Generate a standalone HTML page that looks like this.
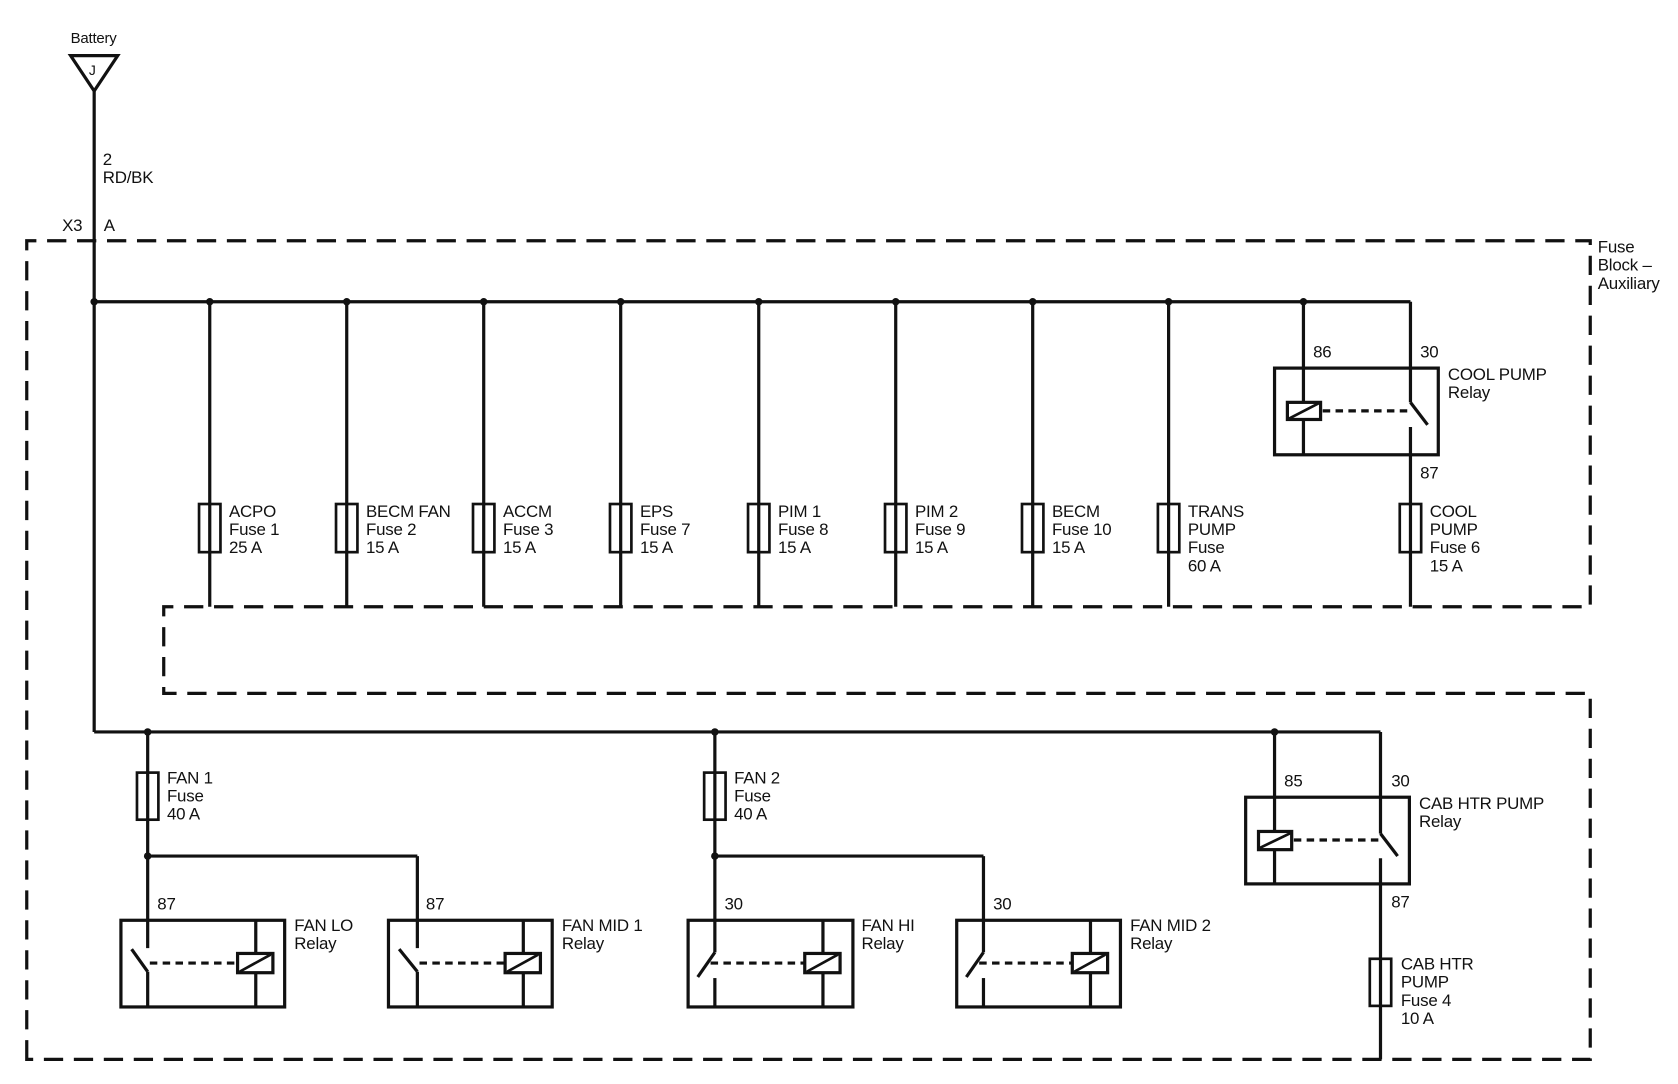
<!DOCTYPE html>
<html><head><meta charset="utf-8"><style>
html,body{margin:0;padding:0;background:#fff;}
svg{display:block;}
text{font-family:"Liberation Sans",sans-serif;font-size:15.8px;fill:#111;letter-spacing:-0.2px;}
</style></head><body>
<svg width="1678" height="1084" viewBox="0 0 1568 1013" preserveAspectRatio="none" xmlns="http://www.w3.org/2000/svg">
<g stroke="#111" stroke-width="3" fill="none">
<path d="M25 990 V225 H1486 V567 H153 V648 H1486 V990 Z" stroke-dasharray="18 10"/>
<path d="M66 52 H110 L88 85 Z" stroke-width="3"/>
<line x1="88" y1="85" x2="88" y2="684"/>
<line x1="88" y1="282" x2="1318" y2="282"/>
<g>
<line x1="196" y1="282" x2="196" y2="567"/>
<line x1="324" y1="282" x2="324" y2="567"/>
<line x1="452" y1="282" x2="452" y2="567"/>
<line x1="580" y1="282" x2="580" y2="567"/>
<line x1="709" y1="282" x2="709" y2="567"/>
<line x1="837" y1="282" x2="837" y2="567"/>
<line x1="965" y1="282" x2="965" y2="567"/>
<line x1="1092" y1="282" x2="1092" y2="567"/>
</g>
<g stroke-width="2.5">
<rect x="186" y="471" width="20" height="45"/>
<rect x="314" y="471" width="20" height="45"/>
<rect x="442" y="471" width="20" height="45"/>
<rect x="570" y="471" width="20" height="45"/>
<rect x="699" y="471" width="20" height="45"/>
<rect x="827" y="471" width="20" height="45"/>
<rect x="955" y="471" width="20" height="45"/>
<rect x="1082" y="471" width="20" height="45"/>
<rect x="1308" y="471" width="20" height="45"/>
<rect x="128" y="722" width="20" height="44"/>
<rect x="658" y="722" width="20" height="44"/>
<rect x="1280" y="896" width="20" height="44"/>
</g>
<rect x="1191" y="344" width="153" height="81"/>
<line x1="1218" y1="282" x2="1218" y2="425"/>
<line x1="1318" y1="282" x2="1318" y2="376"/>
<line x1="1318" y1="376" x2="1334" y2="397"/>
<line x1="1318" y1="399" x2="1318" y2="567"/>
<rect x="1203" y="376" width="31" height="16" fill="#fff"/>
<line x1="1203" y1="392" x2="1234" y2="376" stroke-width="2.5"/>
<line x1="1236" y1="384" x2="1316" y2="384" stroke-dasharray="7 5"/>
<line x1="88" y1="684" x2="1290" y2="684"/>
<line x1="138" y1="684" x2="138" y2="886"/>
<line x1="138" y1="800" x2="390" y2="800"/>
<line x1="390" y1="800" x2="390" y2="886"/>
<line x1="668" y1="684" x2="668" y2="890"/>
<line x1="668" y1="800" x2="919" y2="800"/>
<line x1="919" y1="800" x2="919" y2="890"/>
<rect x="113" y="860" width="153" height="81"/>
<line x1="123" y1="887" x2="138" y2="908"/>
<line x1="138" y1="908" x2="138" y2="941"/>
<line x1="239" y1="860" x2="239" y2="941"/>
<rect x="222" y="891" width="33" height="18" fill="#fff"/>
<line x1="224" y1="908" x2="253" y2="892" stroke-width="2.5"/>
<line x1="140" y1="900" x2="221" y2="900" stroke-dasharray="7 5"/>
<rect x="363" y="860" width="153" height="81"/>
<line x1="373" y1="887" x2="390" y2="908"/>
<line x1="390" y1="908" x2="390" y2="941"/>
<line x1="489" y1="860" x2="489" y2="941"/>
<rect x="472" y="891" width="33" height="18" fill="#fff"/>
<line x1="474" y1="908" x2="503" y2="892" stroke-width="2.5"/>
<line x1="392" y1="900" x2="471" y2="900" stroke-dasharray="7 5"/>
<rect x="643" y="860" width="154" height="81"/>
<line x1="668" y1="890" x2="652" y2="913"/>
<line x1="668" y1="914" x2="668" y2="941"/>
<line x1="769" y1="860" x2="769" y2="941"/>
<rect x="752" y="891" width="33" height="18" fill="#fff"/>
<line x1="754" y1="908" x2="783" y2="892" stroke-width="2.5"/>
<line x1="664" y1="900" x2="751" y2="900" stroke-dasharray="7 5"/>
<rect x="894" y="860" width="153" height="81"/>
<line x1="919" y1="890" x2="903" y2="913"/>
<line x1="919" y1="914" x2="919" y2="941"/>
<line x1="1019" y1="860" x2="1019" y2="941"/>
<rect x="1002" y="891" width="33" height="18" fill="#fff"/>
<line x1="1004" y1="908" x2="1033" y2="892" stroke-width="2.5"/>
<line x1="915" y1="900" x2="1001" y2="900" stroke-dasharray="7 5"/>
<rect x="1164" y="745" width="153" height="81"/>
<line x1="1191" y1="684" x2="1191" y2="826"/>
<line x1="1290" y1="684" x2="1290" y2="779"/>
<line x1="1290" y1="779" x2="1306" y2="800"/>
<line x1="1290" y1="802" x2="1290" y2="990"/>
<rect x="1176" y="777" width="31" height="17" fill="#fff"/>
<line x1="1176" y1="793" x2="1207" y2="778" stroke-width="2.5"/>
<line x1="1209" y1="785" x2="1288" y2="785" stroke-dasharray="7 5"/>
</g>
<g fill="#111">
<circle cx="88" cy="282" r="3.5"/><circle cx="196" cy="282" r="3.5"/><circle cx="324" cy="282" r="3.5"/>
<circle cx="452" cy="282" r="3.5"/><circle cx="580" cy="282" r="3.5"/><circle cx="709" cy="282" r="3.5"/>
<circle cx="837" cy="282" r="3.5"/><circle cx="965" cy="282" r="3.5"/><circle cx="1092" cy="282" r="3.5"/>
<circle cx="1218" cy="282" r="3.5"/>
<circle cx="138" cy="684" r="3.5"/><circle cx="668" cy="684" r="3.5"/><circle cx="1191" cy="684" r="3.5"/>
<circle cx="138" cy="800" r="3.5"/><circle cx="668" cy="800" r="3.5"/>
</g>
<text x="66" y="40" style="font-size:14px">Battery</text>
<text x="83" y="70" style="font-size:13px">J</text>
<text x="96" y="154">2</text>
<text x="96" y="171">RD/BK</text>
<text x="58" y="216">X3</text>
<text x="97" y="216">A</text>
<text x="1493" y="236">Fuse</text>
<text x="1493" y="253">Block –</text>
<text x="1493" y="270">Auxiliary</text>
<text x="214" y="483">ACPO</text><text x="214" y="500">Fuse 1</text><text x="214" y="517">25 A</text>
<text x="342" y="483">BECM FAN</text><text x="342" y="500">Fuse 2</text><text x="342" y="517">15 A</text>
<text x="470" y="483">ACCM</text><text x="470" y="500">Fuse 3</text><text x="470" y="517">15 A</text>
<text x="598" y="483">EPS</text><text x="598" y="500">Fuse 7</text><text x="598" y="517">15 A</text>
<text x="727" y="483">PIM 1</text><text x="727" y="500">Fuse 8</text><text x="727" y="517">15 A</text>
<text x="855" y="483">PIM 2</text><text x="855" y="500">Fuse 9</text><text x="855" y="517">15 A</text>
<text x="983" y="483">BECM</text><text x="983" y="500">Fuse 10</text><text x="983" y="517">15 A</text>
<text x="1110" y="483">TRANS</text><text x="1110" y="500">PUMP</text><text x="1110" y="517">Fuse</text><text x="1110" y="534">60 A</text>
<text x="1336" y="483">COOL</text><text x="1336" y="500">PUMP</text><text x="1336" y="517">Fuse 6</text><text x="1336" y="534">15 A</text>
<text x="1227" y="334">86</text><text x="1327" y="334">30</text>
<text x="1353" y="355">COOL PUMP</text><text x="1353" y="372">Relay</text>
<text x="1327" y="447">87</text>
<text x="156" y="732">FAN 1</text><text x="156" y="749">Fuse</text><text x="156" y="766">40 A</text>
<text x="686" y="732">FAN 2</text><text x="686" y="749">Fuse</text><text x="686" y="766">40 A</text>
<text x="147" y="850">87</text><text x="398" y="850">87</text>
<text x="677" y="850">30</text><text x="928" y="850">30</text>
<text x="275" y="870">FAN LO</text><text x="275" y="887">Relay</text>
<text x="525" y="870">FAN MID 1</text><text x="525" y="887">Relay</text>
<text x="805" y="870">FAN HI</text><text x="805" y="887">Relay</text>
<text x="1056" y="870">FAN MID 2</text><text x="1056" y="887">Relay</text>
<text x="1200" y="735">85</text><text x="1300" y="735">30</text>
<text x="1326" y="756">CAB HTR PUMP</text><text x="1326" y="773">Relay</text>
<text x="1300" y="848">87</text>
<text x="1309" y="906">CAB HTR</text><text x="1309" y="923">PUMP</text><text x="1309" y="940">Fuse 4</text><text x="1309" y="957">10 A</text>
</svg>
</body></html>
